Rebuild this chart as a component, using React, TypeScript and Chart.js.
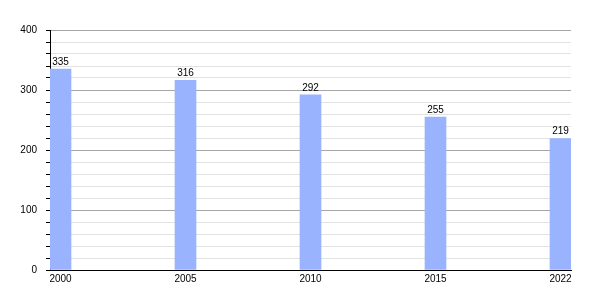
import React, { useEffect, useRef } from "react";
import { Chart, registerables } from "chart.js";

Chart.register(...registerables);

const categories = ["2000", "2005", "2010", "2015", "2022"];
const values = [335, 316, 292, 255, 219];
const yTicksMajor = [0, 100, 200, 300, 400];

const FONT = "'Liberation Sans', Arial, sans-serif";

const labelPlugin = {
  id: "barLabels",
  afterDatasetsDraw(chart: any) {
    const ctx = chart.ctx;
    const meta = chart.getDatasetMeta(0);
    ctx.save();
    ctx.font = `10px ${FONT}`;
    ctx.fillStyle = "#000";
    ctx.textAlign = "center";
    ctx.textBaseline = "bottom";
    meta.data.forEach((bar: any, i: number) => {
      ctx.fillText(String(values[i]), bar.x, bar.y - 2);
    });
    ctx.restore();
  },
};

export default function App() {
  const ref = useRef<HTMLCanvasElement>(null);
  useEffect(() => {
    const chart = new Chart(ref.current!, {
      type: "bar",
      data: {
        datasets: [
          {
            data: values.map((v, i) => ({ x: i, y: v })),
            backgroundColor: "#99b3ff",
            barThickness: 21,
          },
        ],
      },
      options: {
        animation: false,
        responsive: false,
        maintainAspectRatio: false,
        layout: { padding: { top: 30, right: 29, left: 0, bottom: 0 } },
        plugins: { legend: { display: false }, tooltip: { enabled: false } },
        scales: {
          x: {
            type: "linear",
            offset: false,
            min: -0.084,
            max: 4.084,
            afterBuildTicks(scale: any) {
              scale.ticks = categories.map((_, i) => ({ value: i }));
            },
            afterFit(scale: any) {
              scale.height = 30;
            },
            grid: { display: false, drawTicks: false },
            border: { display: true, color: "#000", width: 1 },
            ticks: {
              autoSkip: false,
              maxRotation: 0,
              padding: 3,
              color: "#000",
              font: { family: FONT, size: 10 },
              callback: (v: any) => categories[v] ?? "",
            },
          },
          y: {
            min: 0,
            max: 400,
            afterFit(scale: any) {
              scale.width = 50;
            },
            grid: {
              color: (c: any) =>
                yTicksMajor.includes(c.tick?.value) ? "#a6a6a6" : "#e2e2e2",
              tickColor: "#000",
              tickLength: 4,
              drawTicks: true,
            },
            border: { display: true, color: "#000", width: 1 },
            ticks: {
              stepSize: 20,
              autoSkip: false,
              padding: 9,
              color: "#000",
              font: { family: FONT, size: 10 },
              callback: (v: any) => (yTicksMajor.includes(v) ? String(v) : ""),
            },
          },
        },
      },
      plugins: [labelPlugin],
    });
    return () => chart.destroy();
  }, []);
  return (
    <div style={{ position: "fixed", left: 0, top: 0, width: 600, height: 300, background: "#fff" }}>
      <canvas ref={ref} width={600} height={300} />
    </div>
  );
}
